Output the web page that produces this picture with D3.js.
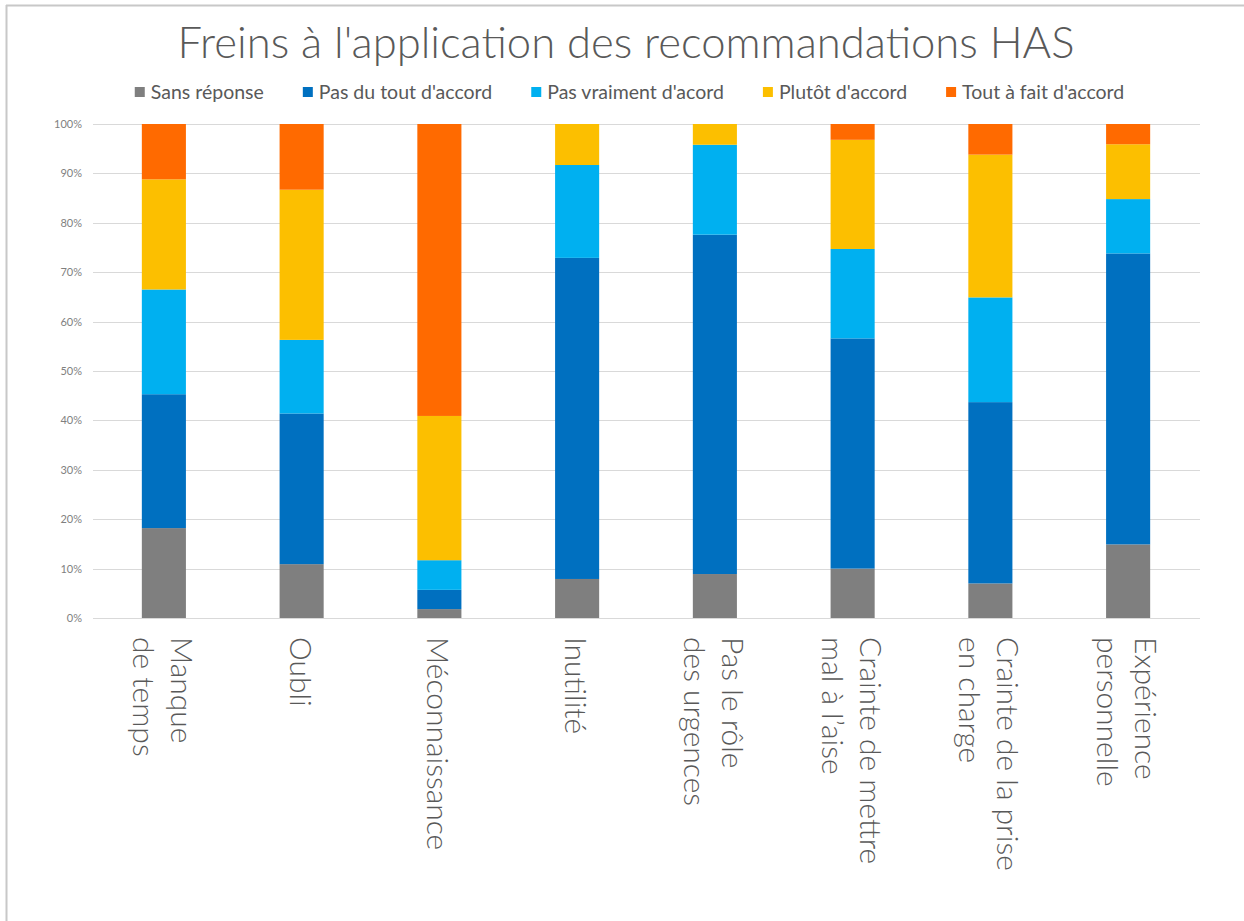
<!DOCTYPE html>
<html>
<head>
<meta charset="utf-8">
<script src="https://cdn.jsdelivr.net/npm/d3@7"></script>
<style>
  html, body { margin: 0; padding: 0; background: #fff; }
  svg { display: block; }
  text { font-family: Lato, "Open Sans", sans-serif; }
</style>
</head>
<body>
<svg id="chart" width="1244" height="921"></svg>
<script>
// ---- Data ----
const title = "Freins à l'application des recommandations HAS";
const categories = [
  ["Manque", "de temps"],
  ["Oubli"],
  ["Méconnaissance"],
  ["Inutilité"],
  ["Pas le rôle", "des urgences"],
  ["Crainte de mettre", "mal à l’aise"],
  ["Crainte de la prise", "en charge"],
  ["Expérience", "personnelle"]
];
const seriesNames = ["Sans réponse", "Pas du tout d'accord", "Pas vraiment d'acord", "Plutôt d'accord", "Tout à fait d'accord"];
const sansReponse     = [18.2, 10.9, 1.8, 7.9, 8.9, 10.0, 7.0, 14.9];
const pasDuTout       = [27.1, 30.5, 3.9, 65.0, 68.7, 46.6, 36.7, 58.9];
const pasVraiment     = [21.2, 14.9, 6.0, 18.8, 18.2, 18.1, 21.2, 11.0];
const plutot          = [22.3, 30.4, 29.2, 8.3, 4.2, 22.1, 28.9, 11.1];
const toutAFait       = [11.2, 13.3, 59.1, 0.0, 0.0, 3.2, 6.2, 4.1];
const yTicks = [0, 10, 20, 30, 40, 50, 60, 70, 80, 90, 100];
const colors = ["#7f7f7f", "#0070c0", "#00b0f0", "#fcbf00", "#ff6a00"];

// ---- Build table ----
const seriesValues = [sansReponse, pasDuTout, pasVraiment, plutot, toutAFait];
const keys = seriesNames;
const catKeys = categories.map(c => c.join(" "));
const table = catKeys.map((c, i) => {
  const row = { cat: c };
  keys.forEach((k, j) => row[k] = seriesValues[j][i]);
  return row;
});

const svg = d3.select("#chart");

// frame (top & left edges visible)
svg.append("line").attr("x1", 6).attr("x2", 1244).attr("y1", 5.5).attr("y2", 5.5)
  .attr("stroke", "#c8c8c8").attr("stroke-width", 2);
svg.append("line").attr("x1", 6.5).attr("x2", 6.5).attr("y1", 5).attr("y2", 921)
  .attr("stroke", "#c8c8c8").attr("stroke-width", 2);

const x = d3.scaleBand().domain(catKeys).range([95, 1197]).paddingInner(0.68).paddingOuter(0.34);
const y = d3.scaleLinear().domain([0, 100]).range([618, 124]);

// gridlines
svg.append("g").selectAll("line").data(yTicks).join("line")
  .attr("x1", 93).attr("x2", 1200)
  .attr("y1", d => Math.round(y(d)) + 0.5).attr("y2", d => Math.round(y(d)) + 0.5)
  .attr("stroke", "#d9d9d9").attr("stroke-width", 1);

// y axis labels
const yAxis = d3.axisLeft(y).tickValues(yTicks).tickFormat(d => d + "%").tickSize(0).tickPadding(0);
const gy = svg.append("g").attr("transform", "translate(82,0)").call(yAxis);
gy.select(".domain").remove();
gy.selectAll("text").attr("fill", "#7f7f7f").style("font-size", "11px").style("font-family", "Lato, sans-serif");

// stacked bars
const stack = d3.stack().keys(keys)(table);
svg.append("g").selectAll("g").data(stack).join("g")
  .attr("fill", (d, i) => colors[i])
  .selectAll("rect").data(d => d).join("rect")
  .attr("x", d => x(d.data.cat))
  .attr("width", x.bandwidth())
  .attr("y", d => y(d[1]))
  .attr("height", d => y(d[0]) - y(d[1]));

// x labels rotated
const lh = 38;
const xl = svg.append("g");
categories.forEach((lines, i) => {
  const cx = x(catKeys[i]) + x.bandwidth() / 2;
  const g = xl.append("g").attr("transform", `translate(${cx},637) rotate(90)`);
  lines.forEach((ln, j) => {
    g.append("text")
      .attr("x", 0)
      .attr("y", (j - (lines.length - 1) / 2) * lh)
      .attr("dominant-baseline", "central")
      .attr("fill", "#595959")
      .style("font-size", "30px")
      .style("font-weight", 300)
      .text(ln);
  });
});

// title
svg.append("text")
  .attr("x", 626).attr("y", 58)
  .attr("text-anchor", "middle")
  .attr("fill", "#595959")
  .style("font-size", "43px")
  .style("font-weight", 300)
  .attr("textLength", 897)
  .attr("lengthAdjust", "spacingAndGlyphs")
  .text(title);

// legend
const leg = svg.append("g");
let lx = 0;
seriesNames.forEach((name, i) => {
  const g = leg.append("g").attr("transform", `translate(${lx},0)`);
  g.append("rect").attr("x", 0).attr("y", 87).attr("width", 10).attr("height", 10).attr("fill", colors[i]);
  const t = g.append("text").attr("x", 16).attr("y", 98.5)
    .attr("fill", "#595959").style("font-size", "19.5px").text(name);
  const w = t.node().getComputedTextLength();
  lx += 16 + w + 39;
});
const totalW = lx - 39;
leg.attr("transform", `translate(${629.5 - totalW / 2},0)`);
</script>
</body>
</html>
